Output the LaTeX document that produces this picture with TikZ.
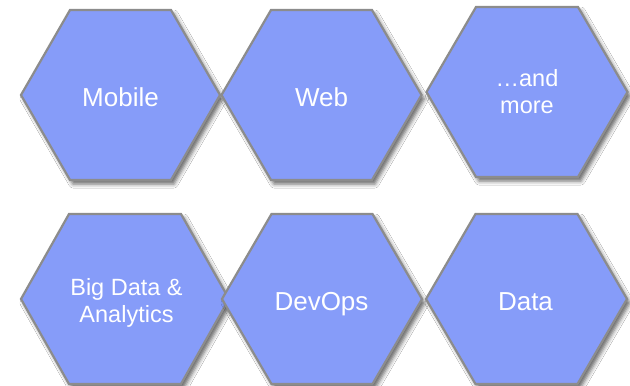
\documentclass[tikz,border=0pt]{standalone}
\usepackage{fontspec}
\setmainfont{Liberation Sans}
\usetikzlibrary{shadows.blur}
\definecolor{hexfill}{HTML}{869CF9}
\definecolor{hexline}{HTML}{8C8C8C}
\tikzset{
  hexshape/.style={fill=hexfill, draw=hexline, line width=2.2pt, line join=miter,
    blur shadow={shadow xshift=3pt, shadow yshift=-4pt, shadow blur radius=4pt, shadow opacity=60}},
  bigtext/.style={text=white, font=\fontsize{26}{30}\selectfont, anchor=base, inner sep=0pt},
  twotext/.style={text=white, font=\fontsize{23.5}{27}\selectfont, align=center, anchor=center, inner sep=0pt},
}
% #1 name, #2 cx, #3 cy, #4 half width, #5 half top edge, #6 half height
\newcommand\myhex[6]{%
  \coordinate (#1) at (#2,#3);
  \path[hexshape] ({#2-#4},#3) -- ({#2-#5},{#3-#6}) -- ({#2+#5},{#3-#6}) -- ({#2+#4},#3)
     -- ({#2+#5},{#3+#6}) -- ({#2-#5},{#3+#6}) -- cycle;
}
\begin{document}
\begin{tikzpicture}[x=1pt,y=-1pt]
\useasboundingbox (0,0) rectangle (630,386);
\fill[white] (0,0) rectangle (630,386);
% top row
\myhex{h1}{120.5}{95}{99.5}{50.5}{85}
\myhex{h2}{321.5}{95}{100}{50.5}{85}
\myhex{h3}{527}{92}{100.5}{51}{85}
% bottom row
\myhex{h4}{125}{299}{104}{56}{85}
\myhex{h5}{322}{299}{100}{50.5}{85}
\myhex{h6}{526.5}{299}{100.5}{51}{85}
% labels
\node[bigtext] (t1) at (120.5,106) {Mobile};
\node[bigtext] (t2) at (321.5,106) {Web};
\node[twotext] (t3) at (527,92) {…and\\more};
\node[twotext] (t4) at (126.5,302.5) {Big Data \&\\Analytics};
\node[bigtext] (t5) at (321.5,310.7) {DevOps};
\node[bigtext] (t6) at (525.5,310.7) {Data};
\end{tikzpicture}
\end{document}
